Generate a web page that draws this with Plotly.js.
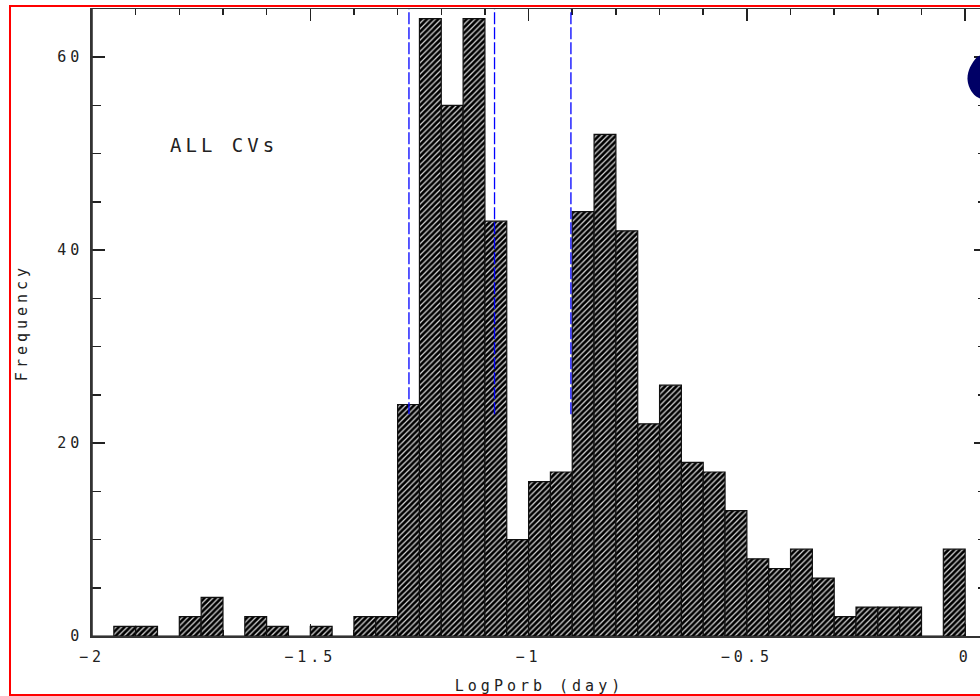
<!DOCTYPE html>
<html>
<head>
<meta charset="utf-8">
<script src="https://cdn.plot.ly/plotly-3.0.1.min.js"></script>
<style>
  html, body { margin: 0; padding: 0; overflow: hidden; background: #fff; width: 980px; height: 696px; }
  #chart { position: absolute; left: 0; top: 0; width: 990px; height: 696px; }
  #frame { position: absolute; left: 9px; top: 5px; width: 1000px; height: 687px;
           border: 2px solid #ff0000; pointer-events: none; }
  #blob { position: absolute; left: 0; top: 0; pointer-events: none; }
  #chart text { letter-spacing: 4px; }
</style>
</head>
<body>
<div id="chart"></div>
<div id="frame"></div>
<svg id="blob" width="980" height="696">
  <path d="M981 55 L977 57 C970 65, 966 74, 968 83 C970 92, 976 98, 982 99 L982 55 Z" fill="#000066"/>
</svg>
<script>
// Orbital period histogram of all CVs, bin width 0.05 in log P (days)
const binCenters = [
  -1.975, -1.925, -1.875, -1.825, -1.775, -1.725, -1.675, -1.625, -1.575, -1.525,
  -1.475, -1.425, -1.375, -1.325, -1.275, -1.225, -1.175, -1.125, -1.075, -1.025,
  -0.975, -0.925, -0.875, -0.825, -0.775, -0.725, -0.675, -0.625, -0.575, -0.525,
  -0.475, -0.425, -0.375, -0.325, -0.275, -0.225, -0.175, -0.125, -0.075, -0.025
];
const counts = [
  0, 1, 1, 0, 2, 4, 0, 2, 1, 0,
  1, 0, 2, 2, 24, 64, 55, 64, 43, 10,
  16, 17, 44, 52, 42, 22, 26, 18, 17, 13,
  8, 7, 9, 6, 2, 3, 3, 3, 0, 9
];
const binWidth = 0.05;

// Reference periods marked with dashed lines (log P, days)
const markerPeriods = [-1.274, -1.078, -0.903];
const markerBase = 23;
const markerTop = 65;

const xTickVals = [-2, -1.5, -1, -0.5, 0];
const xTickText = ['\u22122', '\u22121.5', '\u22121', '\u22120.5', '0'];
const yTickVals = [0, 20, 40, 60];
const yTickText = ['0', '20', '40', '60'];

const panelLabel = 'ALL CVs';
const xTitle = 'LogPorb (day)';
const yTitle = 'Frequency';

const font = { family: 'DejaVu Sans Mono, monospace', color: '#222' };

const traces = [{
  type: 'bar',
  x: binCenters,
  y: counts,
  width: binWidth,
  marker: {
    color: '#ffffff',
    pattern: { shape: '/', fgcolor: '#000000', bgcolor: '#d8d8d8', size: 4, solidity: 0.7 },
    line: { color: '#111111', width: 1.2 }
  },
  hoverinfo: 'x+y',
  showlegend: false
}];

markerPeriods.forEach(function (p) {
  traces.push({
    type: 'scatter',
    mode: 'lines',
    x: [p, p],
    y: [markerBase, markerTop],
    line: { color: '#0000ff', width: 1.3, dash: '12px,3px' },
    hoverinfo: 'x',
    showlegend: false
  });
});

const layout = {
  width: 990,
  height: 696,
  margin: { l: 92, r: 3, t: 9, b: 60 },
  paper_bgcolor: 'rgba(0,0,0,0)',
  plot_bgcolor: 'rgba(0,0,0,0)',
  bargap: 0,
  showlegend: false,
  font: font,
  xaxis: {
    range: [-2, 0.05],
    tickmode: 'array',
    tickvals: xTickVals,
    ticktext: xTickText,
    ticks: 'inside',
    ticklen: 12,
    tickwidth: 1.5,
    tickcolor: '#222',
    minor: { tickmode: 'linear', tick0: -2, dtick: 0.1, ticks: 'inside', ticklen: 6, tickwidth: 1.5, tickcolor: '#222', showgrid: false },
    showline: true,
    linecolor: '#333',
    linewidth: 1.5,
    mirror: 'ticks',
    showgrid: false,
    zeroline: false,
    layer: 'below traces',
    tickfont: { family: font.family, size: 15, color: '#222' },
    ticklabelstandoff: 6,
    title: { text: xTitle, font: { family: font.family, size: 15, color: '#222' }, standoff: 16 },
    fixedrange: true
  },
  yaxis: {
    range: [0, 65],
    tickmode: 'array',
    tickvals: yTickVals,
    ticktext: yTickText,
    ticks: 'inside',
    ticklen: 13,
    tickwidth: 1.5,
    tickcolor: '#222',
    minor: { tickmode: 'linear', tick0: 0, dtick: 5, ticks: 'inside', ticklen: 9, tickwidth: 1.5, tickcolor: '#222', showgrid: false },
    showline: true,
    linecolor: '#333',
    linewidth: 1.6,
    mirror: 'ticks',
    showgrid: false,
    zeroline: false,
    tickfont: { family: font.family, size: 15, color: '#222' },
    ticklabelstandoff: 4,
    title: { text: yTitle, font: { family: font.family, size: 15, color: '#222' }, standoff: 34 },
    fixedrange: true
  },
  shapes: [{
    // left frame edge of the plotting area
    type: 'line', xref: 'paper', yref: 'paper',
    x0: 0, x1: 0, y0: 0, y1: 1,
    line: { color: '#333', width: 1.6 },
    layer: 'above'
  }],
  annotations: [{
    xref: 'paper', yref: 'paper',
    x: 0.148, y: 0.783,
    xanchor: 'center', yanchor: 'middle',
    text: panelLabel,
    showarrow: false,
    font: { family: font.family, size: 19, color: '#222' }
  }]
};

Plotly.newPlot('chart', traces, layout, { displayModeBar: false, staticPlot: true });
</script>
</body>
</html>
